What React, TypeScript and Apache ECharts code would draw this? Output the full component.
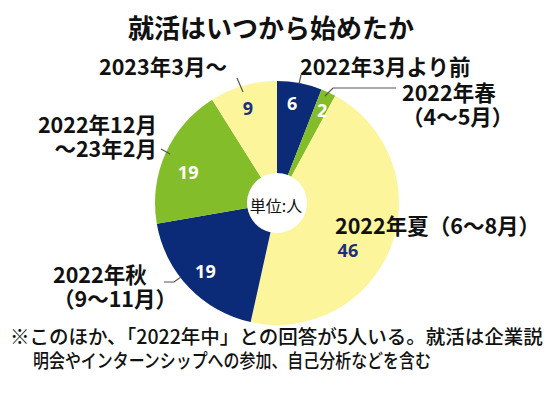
import React, { useEffect, useRef } from 'react';
import * as echarts from 'echarts';

const categories = [
  '2022年3月より前',
  '2022年春\n（4〜5月）',
  '2022年夏（6〜8月）',
  '2022年秋\n（9〜11月）',
  '2022年12月\n〜23年2月',
  '2023年3月〜',
];
const values = [6, 2, 46, 19, 19, 9];
const titleText = '就活はいつから始めたか';
const unitText = '単位:人';
const noteLines = [
  '※このほか、「2022年中」との回答が5人いる。就活は企業説',
  '明会やインターンシップへの参加、自己分析などを含む',
];

const NAVY = '#0b2a78';
const GREEN = '#84bd2a';
const YELLOW = '#fcf59b';
const sliceColors = [NAVY, GREEN, YELLOW, NAVY, GREEN, YELLOW];
const valueColors = ['#ffffff', '#ffffff', '#1b2f7c', '#ffffff', '#ffffff', '#1b2f7c'];
const valueRadius = [101, 103, 85, 99, 94, 99];
const valueAngleShift = [-2, 1, 13, 0, -5, -1];
const catLayout = [
  { x: 300, y: 65, align: 'left' },
  { x: 402, y: 103, align: 'left' },
  { x: 335, y: 224, align: 'left' },
  { x: 53, y: 285, align: 'left' },
  { x: 157, y: 135, align: 'right' },
  { x: 99, y: 65, align: 'left' },
];
const leaderLines = [
  [[301, 75], [299, 84]],
  [[325, 96], [333, 88], [396, 88]],
  [[164, 282], [174, 282], [181, 277]],
  [[161, 149], [170, 154]],
  [[237, 78], [243, 92]],
];

const JP = '"Noto Sans CJK JP", "Noto Sans", sans-serif';

export default function App() {
  const ref = useRef<HTMLDivElement>(null);
  useEffect(() => {
    document.body.style.margin = '0';
    const chart = echarts.init(ref.current!, null, { renderer: 'svg' });
    const cx = 277, cy = 203, r0 = 30, r1 = 122;
    const total = values.reduce((a, b) => a + b, 0);
    const mids: number[] = [];
    let acc = 0;
    values.forEach((v) => {
      mids.push(((acc + v / 2) / total) * 360);
      acc += v;
    });

    const data = values.map((v, i) => ({
      name: categories[i],
      value: v,
      itemStyle: { color: sliceColors[i] },
      label: { color: valueColors[i] },
    }));

    chart.setOption({
      animation: false,
      backgroundColor: '#ffffff',
      series: [
        {
          type: 'pie',
          center: [cx, cy],
          radius: [r0, r1],
          startAngle: 90,
          clockwise: true,
          avoidLabelOverlap: false,
          silent: true,
          z: 2,
          data,
          label: {
            show: true,
            position: 'inside',
            formatter: '{c}',
            fontFamily: '"Open Sans", sans-serif',
            fontWeight: 700,
            fontSize: 18,
          },
          labelLine: { show: false },
          labelLayout: (p: any) => {
            const i = p.dataIndex;
            const a = ((mids[i] + valueAngleShift[i]) * Math.PI) / 180;
            return {
              x: cx + valueRadius[i] * Math.sin(a),
              y: cy - valueRadius[i] * Math.cos(a),
              align: 'center',
              verticalAlign: 'middle',
            };
          },
        },
        {
          type: 'pie',
          center: [cx, cy],
          radius: [r0, r1],
          startAngle: 90,
          clockwise: true,
          avoidLabelOverlap: false,
          silent: true,
          z: 4,
          data: values.map((v, i) => ({ name: categories[i], value: v })),
          itemStyle: { color: 'rgba(0,0,0,0)' },
          label: {
            show: true,
            position: 'outside',
            formatter: '{b}',
            fontFamily: JP,
            fontWeight: 700,
            fontSize: 21.5,
            lineHeight: 24,
            color: '#111111',
          },
          labelLine: { show: false },
          labelLayout: (p: any) => {
            const L = catLayout[p.dataIndex];
            return { x: L.x, y: L.y, align: L.align, verticalAlign: 'middle' };
          },
        },
      ],
      graphic: [
        {
          type: 'text',
          x: 271,
          y: 26,
          style: {
            text: titleText,
            fontFamily: JP,
            fontWeight: 700,
            fontSize: 26,
            fill: '#111111',
            align: 'center',
            verticalAlign: 'middle',
          },
        },
        {
          type: 'text',
          x: cx - 1,
          y: cy + 2,
          z: 10,
          style: {
            text: unitText,
            fontFamily: JP,
            fontSize: 16,
            fill: '#111111',
            align: 'center',
            verticalAlign: 'middle',
          },
        },
        {
          type: 'text',
          x: 10,
          y: 335,
          style: {
            text: noteLines[0],
            fontFamily: JP,
            fontWeight: 500,
            fontSize: 19.5,
            fill: '#111111',
            align: 'left',
            verticalAlign: 'middle',
          },
        },
        {
          type: 'text',
          x: 33,
          y: 360,
          scaleX: 0.84,
          style: {
            text: noteLines[1],
            fontFamily: JP,
            fontWeight: 500,
            fontSize: 19,
            fill: '#111111',
            align: 'left',
            verticalAlign: 'middle',
          },
        },
        ...leaderLines.map((pts) => ({
          type: 'polyline',
          shape: { points: pts },
          style: { stroke: '#555555', lineWidth: 1.2, fill: 'none' },
          z: 5,
        })),
      ],
    });
    return () => chart.dispose();
  }, []);
  return <div ref={ref} style={{ width: 550, height: 394 }} />;
}
